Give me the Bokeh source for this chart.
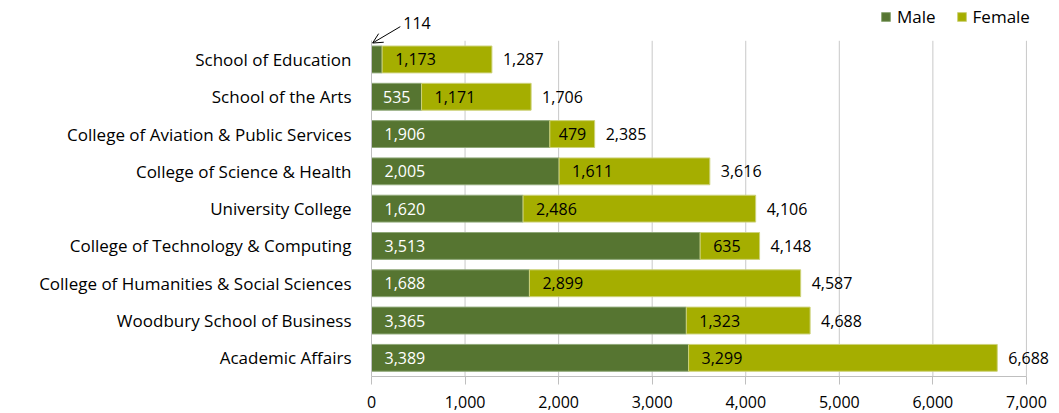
from bokeh.plotting import figure
from bokeh.models import (ColumnDataSource, FactorRange, Range1d, NumeralTickFormatter,
                          FixedTicker, Legend, LegendItem, Arrow, OpenHead, Label)
from bokeh.core.properties import value
from bokeh.embed import file_html
from bokeh.resources import INLINE

categories = ["School of Education", "School of the Arts",
              "College of Aviation & Public Services", "College of Science & Health",
              "University College", "College of Technology & Computing",
              "College of Humanities & Social Sciences", "Woodbury School of Business",
              "Academic Affairs"]
male = [114, 535, 1906, 2005, 1620, 3513, 1688, 3365, 3389]
female = [1173, 1171, 479, 1611, 2486, 635, 2899, 1323, 3299]
x_ticks = [0, 1000, 2000, 3000, 4000, 5000, 6000, 7000]

MALE_C = "#567531"
FEMALE_C = "#A5AE00"
GRID_C = "#C8C8C8"
FONT = "Open Sans"
FS = "16px"
FS_CAT = "17px"

n = len(categories)
cats_bottom_up = categories[::-1]
male_r = male[::-1]
female_r = female[::-1]
total_r = [m + f for m, f in zip(male_r, female_r)]

AX_MAX = x_ticks[-1]
XMAX = 7300                      # room on the right for the total labels
W, H = 1056, 413
ML, MT, MB = 371, 3, 37
px_per_unit = 655 / AX_MAX
frame_w = round(XMAX * px_per_unit)
MR = W - ML - frame_w
frame_h = H - MT - MB

def fmt(v):
    return f"{v:,}"

def text_w(s):
    return sum(4 if c == "," else 9 for c in s)

def inside_offset(width_val, s):
    wpx = width_val * px_per_unit
    tw = text_w(s)
    return max(0.0, min(13.0, (wpx - tw) / 2))

m_x, m_y, m_t, m_off = [], [], [], []
small_male = []
for c, m in zip(cats_bottom_up, male_r):
    s = fmt(m)
    if m * px_per_unit < text_w(s) + 4:
        small_male.append((c, m))
        continue
    m_x.append(0); m_y.append(c); m_t.append(s); m_off.append(inside_offset(m, s))

f_x, f_y, f_t, f_off = [], [], [], []
for c, m, f in zip(cats_bottom_up, male_r, female_r):
    s = fmt(f)
    f_x.append(m); f_y.append(c); f_t.append(s); f_off.append(inside_offset(f, s))

src = ColumnDataSource(dict(cat=cats_bottom_up, male=male_r, female=female_r, total=total_r,
                            zero=[0] * n, total_t=[fmt(t) for t in total_r]))

# an empty top band gives room for the legend and the call-out
factors = cats_bottom_up + [" "]
p = figure(width=W, height=H, y_range=FactorRange(*factors), x_range=Range1d(0, XMAX),
           output_backend="svg", toolbar_location=None,
           min_border_left=ML, min_border_right=MR, min_border_top=MT, min_border_bottom=MB)
p.outline_line_color = None

# vertical gridlines limited to the category area
p.segment(x0=x_ticks, y0=[0] * len(x_ticks), x1=x_ticks, y1=[n] * len(x_ticks),
          line_color=GRID_C, line_width=1)

BH = 0.72
rm = p.hbar(y="cat", left="zero", right="male", height=BH, source=src,
            fill_color=MALE_C, line_color="#8FA878", line_width=1)
rf = p.hbar(y="cat", left="male", right="total", height=BH, source=src,
            fill_color=FEMALE_C, line_color="#CDD27A", line_width=1)

p.text(x=m_x, y=m_y, text=m_t, x_offset=m_off, text_align="left", text_baseline="middle",
       text_font=value(FONT), text_font_size=FS, text_color="white")
p.text(x=f_x, y=f_y, text=f_t, x_offset=f_off, text_align="left", text_baseline="middle",
       text_font=value(FONT), text_font_size=FS, text_color="black")
p.text(x="total", y="cat", text="total_t", x_offset=11, text_align="left", text_baseline="middle",
       source=src, text_font=value(FONT), text_font_size=FS, text_color="black")

for c, m in small_male:
    idx = cats_bottom_up.index(c)
    top_y = idx + 0.5 + BH / 2
    p.add_layout(Arrow(end=OpenHead(size=10, line_color="black", line_width=1),
                       x_start=m * 2.7, y_start=top_y + 0.52, x_end=m * 0.1, y_end=top_y + 0.08,
                       line_color="black", line_width=1))
    p.add_layout(Label(x=m * 2.7, y=top_y + 0.62, text=fmt(m), text_font=FONT,
                       text_font_size=FS, text_color="black", text_baseline="middle",
                       text_align="left", x_offset=3))

p.xaxis.ticker = FixedTicker(ticks=x_ticks)
p.xaxis.bounds = (0, AX_MAX)
p.xaxis.formatter = NumeralTickFormatter(format="0,0")
p.xaxis.axis_line_color = "#BFBFBF"
p.xaxis.major_tick_line_color = "#BFBFBF"
p.xaxis.major_tick_out = 8
p.xaxis.major_tick_in = 0
p.xaxis.minor_tick_line_color = None
p.xaxis.major_label_standoff = 11
p.xaxis.major_label_text_font = FONT
p.xaxis.major_label_text_font_size = FS
p.xaxis.major_label_text_color = "black"

p.yaxis.bounds = (0, n)
p.yaxis.axis_line_color = "#BFBFBF"
p.yaxis.major_tick_line_color = None
p.yaxis.major_tick_out = 0
p.yaxis.major_tick_in = 0
p.yaxis.major_label_standoff = 20
p.yaxis.major_label_text_font = FONT
p.yaxis.major_label_text_font_size = FS_CAT
p.yaxis.major_label_text_color = "black"

p.xgrid.grid_line_color = None
p.ygrid.grid_line_color = None

legend = Legend(items=[LegendItem(label="Male", renderers=[rm]),
                       LegendItem(label="Female", renderers=[rf])],
                orientation="horizontal", location=(509, frame_h - 25),
                label_text_font=FONT, label_text_font_size=FS_CAT, label_text_color="black",
                glyph_width=11, glyph_height=11, spacing=20, padding=0, margin=0,
                label_standoff=6, border_line_color=None, background_fill_alpha=0)
p.add_layout(legend, "center")

open("out.html", "w").write(file_html(p, INLINE))
